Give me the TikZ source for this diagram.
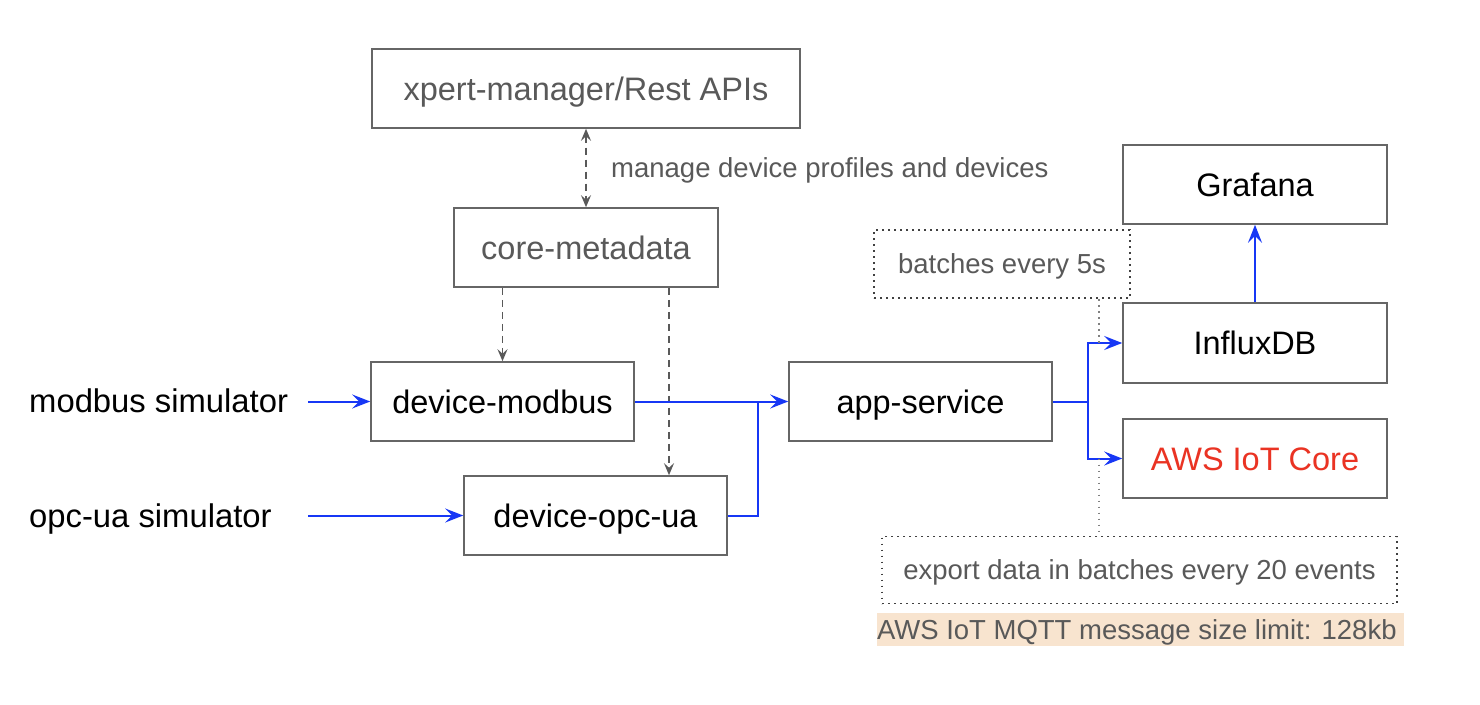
\documentclass[tikz,border=0pt]{standalone}
\usepackage{fontspec}
\setmainfont{Liberation Sans}
\usetikzlibrary{arrows.meta}
\definecolor{boxgray}{HTML}{666666}
\definecolor{txtgray}{HTML}{595959}
\definecolor{flowblue}{HTML}{1737F5}
\definecolor{awsred}{HTML}{EA3323}
\definecolor{peach}{HTML}{F8E4CF}
\tikzset{
  box/.style={draw=boxgray, line width=1.6pt, rectangle, inner sep=0pt,
    minimum width=263pt, minimum height=79pt,
    text height=23.3pt, text depth=0pt,
    font=\fontsize{32.5}{38}\selectfont},
  note/.style={rectangle, inner sep=0pt, draw=black!75, line width=1.8pt,
    dash pattern=on 1.8pt off 4.2pt, text height=19.7pt, text depth=0pt,
    font=\fontsize{27.5}{33}\selectfont, text=txtgray},
  flow/.style={draw=flowblue, line width=2pt},
  flowarrow/.style={flow, -{Stealth[length=18pt,width=14pt,inset=7pt]}},
  mgmttip/.tip={Stealth[length=12pt,width=10pt,inset=4.5pt]},
  mgmt/.style={draw=txtgray, line width=1.8pt, dash pattern=on 7pt off 5pt,
    -mgmttip},
  dotline/.style={draw=gray, line width=1.8pt, dash pattern=on 1.8pt off 4.2pt},
  plain/.style={inner sep=0pt, text height=23.3pt, text depth=0pt,
    font=\fontsize{32.8}{38}\selectfont},
  small/.style={inner sep=0pt, text height=19.7pt, text depth=0pt,
    font=\fontsize{27.5}{33}\selectfont, text=txtgray}
}
\begin{document}
\begin{tikzpicture}[x=1pt,y=-1pt]
\useasboundingbox[fill=white] (0,0) rectangle (1480,704);

% boxes
\node[box, text=txtgray, minimum width=428pt] (xpert) at (586,88.5) {xpert-manager/Rest APIs};
\node[box, text=txtgray, minimum width=264pt] (core) at (586,247.5) {core-metadata};
\node[box] (modbus) at (502.5,401.5) {device-modbus};
\node[box] (opcua) at (595.5,515.5) {device-opc-ua};
\node[box] (app) at (920.5,401.5) {app-service};
\node[box, minimum width=264pt] (grafana) at (1255,184.5) {Grafana};
\node[box, minimum width=264pt, minimum height=80pt] (influx) at (1255,343) {InfluxDB};
\node[box, minimum width=264pt, text=awsred] (aws) at (1255,458.5) {AWS IoT Core};

% notes
\node[note, minimum width=256pt, minimum height=68pt] (batch) at (1002,264) {batches every 5s};
\node[note, minimum width=515pt, minimum height=67pt] (export) at (1139.5,570) {export data in batches every 20 events};
\node[rectangle, fill=peach, inner sep=0pt, minimum width=527pt, minimum height=33pt] (limitbg) at (1140.5,629.5) {};
\node[small, anchor=west] (limit) at (limitbg.west) {AWS IoT MQTT message size limit: 128kb};

% free labels
\node[plain, anchor=west] (msim) at (29,401) {modbus simulator};
\node[plain, anchor=west] (osim) at (29,516) {opc-ua simulator};
\node[small, anchor=west] (manage) at (611,168) {manage device profiles and devices};

% helper coordinates
\coordinate (msimend) at (308,401.5);
\coordinate (osimend) at (308,515.5);
\coordinate (j1) at (758,401.5);
\coordinate (j2) at (1088,401.5);
\coordinate (c669) at (669,400);
\coordinate (dotx) at (1099,400);

% management (dashed)
\draw[mgmt, mgmttip-mgmttip] (xpert.south) -- (core.north);
\draw[mgmt] (core.south -| modbus.north) -- (modbus.north);
\draw[mgmt] (core.south -| c669) -- (opcua.north -| c669);

% data flow
\draw[flowarrow] (msimend) -- (modbus.west);
\draw[flowarrow] (osimend) -- (opcua.west);
\draw[flow] (opcua.east) -| (j1);
\draw[flowarrow] (modbus.east) -- (app.west);
\draw[flow] (app.east) -- (j2);
\draw[flowarrow] (j2) |- (influx.west);
\draw[flowarrow] (j2) |- (aws.west);
\draw[flowarrow] (influx.north) -- (grafana.south);

% dotted callouts
\draw[dotline] (batch.south -| dotx) -- (influx.west -| dotx);
\draw[dotline] (aws.west -| dotx) -- (export.north -| dotx);
\end{tikzpicture}
\end{document}
